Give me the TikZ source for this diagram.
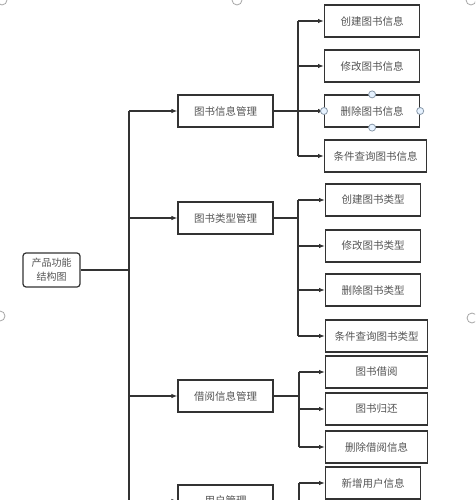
\documentclass[tikz,border=0pt]{standalone}
\usepackage{fontspec}
\setmainfont{Noto Sans CJK SC}
\usetikzlibrary{arrows.meta}
\definecolor{txt}{HTML}{555555}
\definecolor{ln}{HTML}{333333}
\definecolor{hfill}{HTML}{E6F2FF}
\definecolor{hdraw}{HTML}{8A9AAA}
\tikzset{
  x=1pt, y=-1pt,
  boxa/.style={draw=ln, line width=1.2pt, text=txt, minimum width=95pt, minimum height=32pt, inner sep=0pt, font=\fontsize{10.5}{13}\selectfont},
  boxb/.style={boxa, anchor=west},
  rootbox/.style={draw=ln, line width=1.2pt, rounded corners=3pt, text=txt, minimum width=57pt, minimum height=34pt, inner sep=0pt, align=center, font=\fontsize{10}{14}\selectfont},
  conn/.style={draw=ln, line width=1.3pt},
  arr/.style={conn, -{Latex[length=6pt,width=4.5pt]}},
  handle/.style={circle, draw=hdraw, fill=hfill, line width=0.8pt, minimum size=7pt, inner sep=0pt},
  edgeh/.style={circle, draw=gray!70, fill=white, line width=0.8pt, minimum size=10pt, inner sep=0pt}
}
\begin{document}
\begin{tikzpicture}
\useasboundingbox (0,0) rectangle (475,500);
\clip (0,0) rectangle (475,500);
\fill[white] (0,0) rectangle (475,500);

% root
\node[rootbox] (root) at (51.5,270) {产品功能\\结构图};
\coordinate (tk) at (129,270);
\coordinate (tkend) at (129,530);

% level 1
\node[boxa] (m1) at (225.5,111) {图书信息管理};
\node[boxa] (m2) at (225.5,218) {图书类型管理};
\node[boxa] (m3) at (225.5,396) {借阅信息管理};
\node[boxa] (m4) at (225.5,501) {用户管理};

% level 2
\node[boxb] (c11) at (324,21) {创建图书信息};
\node[boxb] (c12) at (324,66) {修改图书信息};
\node[boxb] (c13) at (324,111) {删除图书信息};
\node[boxb, minimum width=102pt] (c14) at (324,156) {条件查询图书信息};

\node[boxb] (c21) at (325,200) {创建图书类型};
\node[boxb] (c22) at (325,246) {修改图书类型};
\node[boxb] (c23) at (325,290) {删除图书类型};
\node[boxb, minimum width=102pt] (c24) at (325,336) {条件查询图书类型};

\node[boxb, minimum width=102pt] (c31) at (325,372) {图书借阅};
\node[boxb, minimum width=102pt] (c32) at (325,409) {图书归还};
\node[boxb, minimum width=102pt] (c33) at (325,447) {删除借阅信息};

\node[boxb] (c41) at (325,483) {新增用户信息};

% trunk
\draw[conn] (root.east) -- (tk);
\draw[conn] (m1.west -| tk) -- (tkend);
\foreach \m in {m1,m2,m3,m4} \draw[arr] (\m.west -| tk) -- (\m.west);

% branches
\coordinate (b1) at (298,111);
\coordinate (b2) at (298,218);
\coordinate (b3) at (299,396);
\coordinate (b4) at (299,501);
\coordinate (b4end) at (299,530);

\draw[conn] (m1.east) -- (b1);
\draw[conn] (c11.west -| b1) -- (c14.west -| b1);
\foreach \c in {c11,c12,c13,c14} \draw[arr] (\c.west -| b1) -- (\c.west);

\draw[conn] (m2.east) -- (b2);
\draw[conn] (c21.west -| b2) -- (c24.west -| b2);
\foreach \c in {c21,c22,c23,c24} \draw[arr] (\c.west -| b2) -- (\c.west);

\draw[conn] (m3.east) -- (b3);
\draw[conn] (c31.west -| b3) -- (c33.west -| b3);
\foreach \c in {c31,c32,c33} \draw[arr] (\c.west -| b3) -- (\c.west);

\draw[conn] (m4.east) -- (b4);
\draw[conn] (c41.west -| b4) -- (b4end);
\draw[arr] (c41.west -| b4) -- (c41.west);

% selection handles
\node[handle] (h1) at (c13.north) {};
\node[handle] (h2) at (c13.south) {};
\node[handle] (h3) at (c13.west) {};
\node[handle] (h4) at (c13.east) {};

% outer handles
\node[edgeh] (e1) at (2,0) {};
\node[edgeh] (e2) at (237,0) {};
\node[edgeh] (e3) at (471,0) {};
\node[edgeh] (e4) at (0,316) {};
\node[edgeh] (e5) at (472,318) {};
\end{tikzpicture}
\end{document}
